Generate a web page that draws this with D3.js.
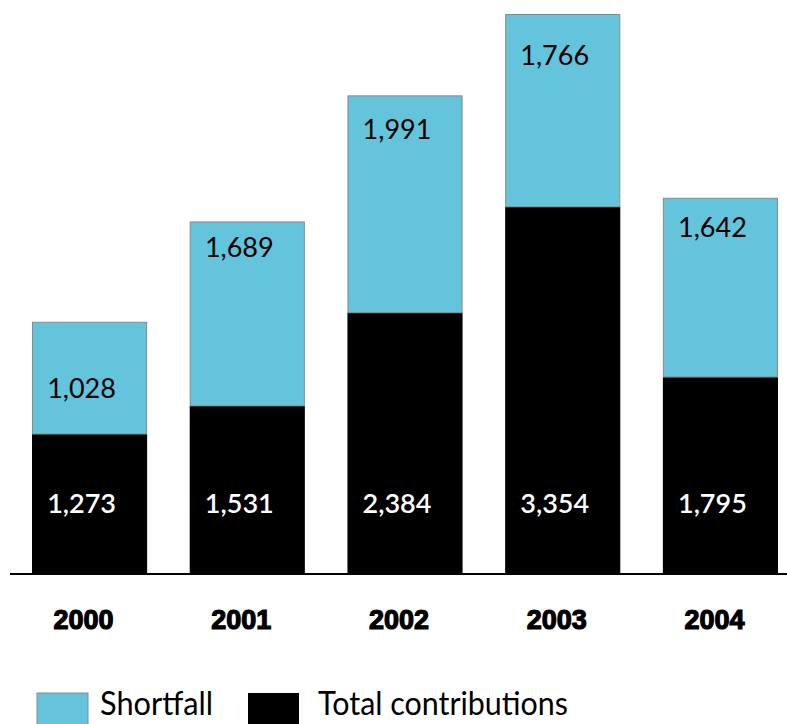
<!DOCTYPE html>
<html>
<head>
<meta charset="utf-8">
<script src="https://cdn.jsdelivr.net/npm/d3@7"></script>
<style>
  body { margin: 0; background: #fff; }
  svg { display: block; }
</style>
</head>
<body>
<div id="chart"></div>
<script>
// Data
const years = ["2000", "2001", "2002", "2003", "2004"];
const contributions = [1273, 1531, 2384, 3354, 1795];
const shortfall = [1028, 1689, 1991, 1766, 1642];

// hand placed label drops below the top of each shortfall bar
const shortfallLabelDy = [76, 36, 44, 51, 39];

const W = 787;
const H = 724;
const baseY = 573;

const BLUE = "#63c4dc";
const FONT = "Lato, 'Noto Sans', sans-serif";

const svg = d3
  .select("#chart")
  .append("svg")
  .attr("width", W)
  .attr("height", H);

// Scales
const x = d3.scaleBand().domain(years).range([32, 778]).paddingInner(0.27);
const y = d3.scaleLinear().domain([0, 5120]).range([baseY, 14]);

const rows = years.map((yr, i) => ({
  year: yr,
  total: contributions[i],
  short: shortfall[i],
  dy: shortfallLabelDy[i],
}));

// Black bars (total contributions)
svg
  .selectAll(".contrib")
  .data(rows)
  .enter()
  .append("rect")
  .attr("class", "contrib")
  .attr("x", (d) => x(d.year))
  .attr("width", x.bandwidth())
  .attr("y", (d) => y(d.total))
  .attr("height", (d) => y(0) - y(d.total))
  .style("fill", "#000");

// Blue bars (shortfall) stacked on top
svg
  .selectAll(".short")
  .data(rows)
  .enter()
  .append("rect")
  .attr("class", "short")
  .attr("x", (d) => x(d.year) + 0.5)
  .attr("width", x.bandwidth() - 1)
  .attr("y", (d) => y(d.total + d.short) + 0.5)
  .attr("height", (d) => y(d.total) - y(d.total + d.short) - 0.5)
  .style("fill", BLUE)
  .style("stroke", "#8a8a8a")
  .style("stroke-width", 1);

// Axis line
svg
  .append("line")
  .attr("x1", 10)
  .attr("x2", W)
  .attr("y1", baseY + 1)
  .attr("y2", baseY + 1)
  .style("stroke", "#000")
  .style("stroke-width", 2);

// Value labels
svg
  .selectAll(".short-label")
  .data(rows)
  .enter()
  .append("text")
  .attr("class", "short-label")
  .attr("x", (d) => x(d.year) + x.bandwidth() / 2 - 8)
  .attr("y", (d) => y(d.total + d.short) + d.dy)
  .attr("text-anchor", "middle")
  .style("font-family", FONT)
  .style("font-size", "27px")
  .style("fill", "#000")
  .text((d) => d3.format(",")(d.short));

svg
  .selectAll(".contrib-label")
  .data(rows)
  .enter()
  .append("text")
  .attr("class", "contrib-label")
  .attr("x", (d) => x(d.year) + x.bandwidth() / 2 - 8)
  .attr("y", baseY - 60)
  .attr("text-anchor", "middle")
  .style("font-family", FONT)
  .style("font-size", "27px")
  .style("font-weight", 600)
  .style("fill", "#fff")
  .text((d) => d3.format(",")(d.total));

// Year labels (heavy, condensed)
svg
  .selectAll(".year")
  .data(years)
  .enter()
  .append("text")
  .attr("class", "year")
  .attr("x", (d) => x(d) + x.bandwidth() / 2 - 6)
  .attr("y", 629)
  .attr("text-anchor", "middle")
  .attr("textLength", 60)
  .attr("lengthAdjust", "spacingAndGlyphs")
  .style("font-family", "'Liberation Sans', Arial, sans-serif")
  .style("font-size", "27px")
  .style("font-weight", "bold")
  .style("fill", "#000")
  .style("stroke", "#000")
  .style("stroke-width", 1.2)
  .text((d) => d);

// Legend
const legend = svg.append("g").attr("id", "legend");
const items = [
  { label: "Shortfall", color: BLUE, sx: 37, tx: 100, len: 113 },
  { label: "Total contributions", color: "#000", sx: 248, tx: 318, len: 250 },
];

legend
  .selectAll("rect")
  .data(items)
  .enter()
  .append("rect")
  .attr("x", (d) => d.sx)
  .attr("y", 693)
  .attr("width", 51)
  .attr("height", 40)
  .style("fill", (d) => d.color)
  .style("stroke", (d) => (d.color === BLUE ? "#8a8a8a" : "none"))
  .style("stroke-width", 1);

legend
  .selectAll("text")
  .data(items)
  .enter()
  .append("text")
  .attr("x", (d) => d.tx)
  .attr("y", 715)
  .attr("textLength", (d) => d.len)
  .attr("lengthAdjust", "spacingAndGlyphs")
  .style("font-family", FONT)
  .style("font-size", "32px")
  .style("fill", "#000")
  .text((d) => d.label);
</script>
</body>
</html>
